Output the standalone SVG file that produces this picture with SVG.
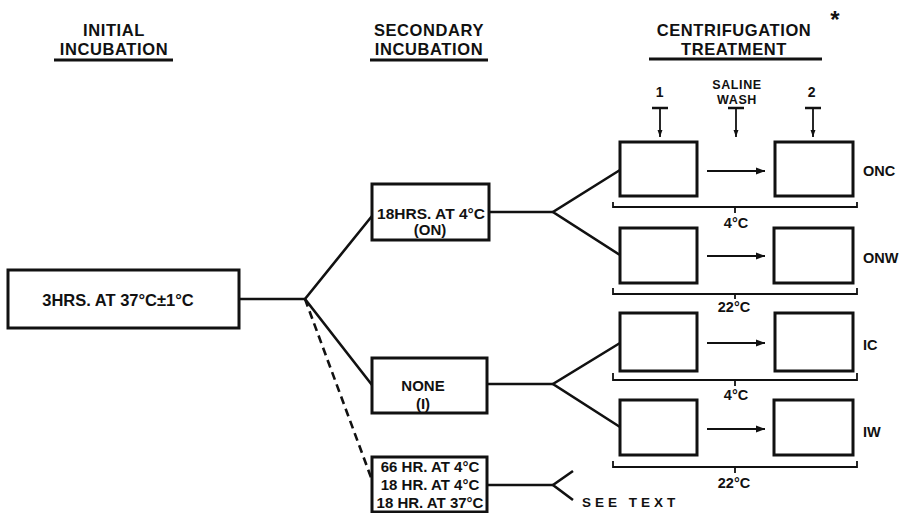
<svg xmlns="http://www.w3.org/2000/svg" width="901" height="513" viewBox="0 0 901 513">
<defs>
<style>
text{font-family:"Liberation Sans",Arial,sans-serif;font-weight:bold;fill:#111}
.h{font-size:16.5px;letter-spacing:0.6px;text-anchor:middle}
.b{font-size:14px;text-anchor:middle}
.s{font-size:12.5px;letter-spacing:0.6px;text-anchor:middle}
.r{font-size:14.5px}
.box{fill:#fff;stroke:#111;stroke-width:3}
.ln{fill:none;stroke:#111;stroke-width:2.6}
.ul{stroke:#111;stroke-width:3}
.thin{fill:none;stroke:#111;stroke-width:1.8}
</style>
<marker id="ah" viewBox="0 0 10 10" refX="10" refY="5" markerWidth="5" markerHeight="5" orient="auto" markerUnits="strokeWidth">
<path d="M0,1 L10,5 L0,9 z" fill="#111"/>
</marker>
<marker id="av" viewBox="0 0 10 10" refX="10" refY="5" markerWidth="4" markerHeight="4" orient="auto" markerUnits="strokeWidth">
<path d="M0,1.5 L10,5 L0,8.5 z" fill="#111"/>
</marker>
</defs>
<rect width="901" height="513" fill="#fff"/>

<g id="headings">
<text class="h" x="114" y="36">INITIAL</text>
<text class="h" x="114" y="55">INCUBATION</text>
<line class="ul" x1="54" y1="60" x2="173" y2="60"/>
<text class="h" x="429" y="36">SECONDARY</text>
<text class="h" x="429" y="55">INCUBATION</text>
<line class="ul" x1="370" y1="60" x2="488" y2="60"/>
<text class="h" x="734" y="36">CENTRIFUGATION</text>
<text class="h" x="734" y="55">TREATMENT</text>
<line class="ul" x1="649" y1="59" x2="822" y2="59"/>
<text x="835" y="28" style="font-size:24px;text-anchor:middle">*</text>
</g>

<g id="steps">
<text class="s" x="660" y="97" style="font-size:14px">1</text>
<text class="s" x="737" y="89">SALINE</text>
<text class="s" x="737" y="104">WASH</text>
<text class="s" x="812" y="97" style="font-size:14px">2</text>
<g class="thin">
<line x1="652" y1="108" x2="668" y2="108" stroke-width="2.5"/>
<line x1="660" y1="108" x2="660" y2="137" marker-end="url(#av)"/>
<line x1="728" y1="108" x2="744" y2="108" stroke-width="2.5"/>
<line x1="736" y1="108" x2="736" y2="137" marker-end="url(#av)"/>
<line x1="805" y1="108" x2="821" y2="108" stroke-width="2.5"/>
<line x1="813" y1="108" x2="813" y2="137" marker-end="url(#av)"/>
</g>
</g>

<g id="connectors">
<polyline class="ln" points="239,299 305,299"/>
<polyline class="ln" points="372,216 305,299 372,385"/>
<line class="ln" x1="305" y1="299" x2="372" y2="480" stroke-dasharray="8,5" stroke-width="3"/>
<polyline class="ln" points="489,212 553,212"/>
<polyline class="ln" points="620,170 553,212 620,255"/>
<polyline class="ln" points="487,384 553,384"/>
<polyline class="ln" points="620,343 553,384 620,427"/>
<polyline class="ln" points="487,485 553,485"/>
<polyline class="ln" points="573,471 553,485 573,500"/>
<g class="thin">
<line x1="707" y1="171" x2="765" y2="171" marker-end="url(#ah)"/>
<line x1="707" y1="256" x2="765" y2="256" marker-end="url(#ah)"/>
<line x1="707" y1="343" x2="765" y2="343" marker-end="url(#ah)"/>
<line x1="707" y1="429" x2="765" y2="429" marker-end="url(#ah)"/>
</g>
</g>

<g id="initial">
<rect class="box" x="8" y="270" width="231" height="58"/>
<text x="118" y="306" style="font-size:16.5px;text-anchor:middle">3HRS. AT 37°C±1°C</text>
</g>

<g id="sec-on">
<rect class="box" x="372" y="184" width="117" height="56"/>
<text class="b" x="431" y="219" style="font-size:15.5px">18HRS. AT 4°C</text>
<text class="b" x="430" y="235" style="font-size:15px">(ON)</text>
</g>

<g id="sec-none">
<rect class="box" x="372" y="358" width="115" height="55"/>
<text class="b" x="423" y="391" style="font-size:15px">NONE</text>
<text class="b" x="423" y="409" style="font-size:15px">(I)</text>
</g>

<g id="sec-other">
<rect class="box" x="372" y="457" width="115" height="55"/>
<text class="b" x="430" y="472" style="font-size:15px">66 HR. AT 4°C</text>
<text class="b" x="430" y="490" style="font-size:15px">18 HR. AT 4°C</text>
<text class="b" x="430" y="508" style="font-size:15px">18 HR. AT 37°C</text>
</g>

<g id="see-text">
<text x="582" y="507" style="font-size:13.5px;letter-spacing:4px">SEE TEXT</text>
</g>

<g id="row-onc">
<rect class="box" x="620" y="142" width="77" height="54"/>
<rect class="box" x="775" y="142" width="78" height="54"/>
<path class="thin" d="M613,202 V207 H857 V202 M735,207 V213" stroke-width="2.4"/>
<text class="r" x="736" y="228" style="text-anchor:middle">4°C</text>
<text class="r" x="863" y="176">ONC</text>
</g>

<g id="row-onw">
<rect class="box" x="620" y="228" width="77" height="55"/>
<rect class="box" x="774" y="228" width="79" height="55"/>
<path class="thin" d="M613,288 V294 H857 V288 M735,294 V299" stroke-width="2.4"/>
<text class="r" x="734" y="312" style="text-anchor:middle">22°C</text>
<text class="r" x="863" y="263">ONW</text>
</g>

<g id="row-ic">
<rect class="box" x="620" y="313" width="77" height="58"/>
<rect class="box" x="775" y="313" width="78" height="58"/>
<path class="thin" d="M613,373 V380 H857 V373 M735,380 V386" stroke-width="2.4"/>
<text class="r" x="736" y="400" style="text-anchor:middle">4°C</text>
<text class="r" x="863" y="350">IC</text>
</g>

<g id="row-iw">
<rect class="box" x="620" y="400" width="77" height="55"/>
<rect class="box" x="774" y="400" width="79" height="55"/>
<path class="thin" d="M613,461 V467 H857 V461 M735,467 V473" stroke-width="2.4"/>
<text class="r" x="734" y="488" style="text-anchor:middle">22°C</text>
<text class="r" x="863" y="437">IW</text>
</g>
</svg>
